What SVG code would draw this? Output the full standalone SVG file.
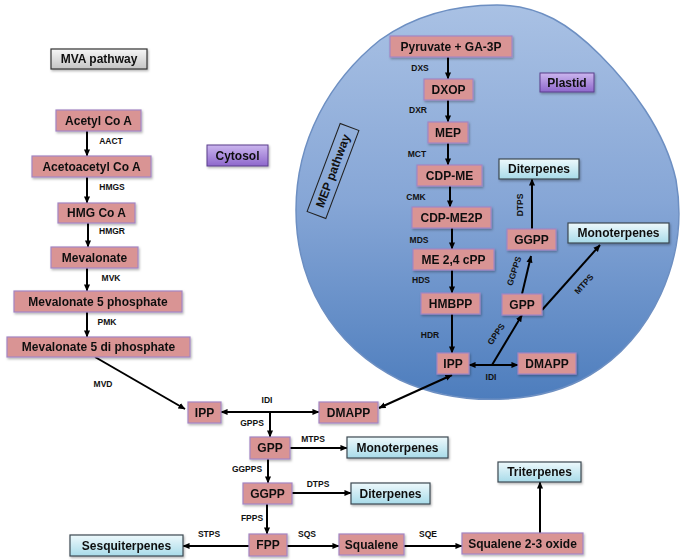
<svg xmlns="http://www.w3.org/2000/svg" width="685" height="560" viewBox="0 0 685 560">
<style>
text{font-family:"Liberation Sans",Arial,sans-serif;font-weight:bold;fill:#111;}
.t{font-size:12px;text-anchor:middle;dominant-baseline:central;}
.e{font-size:8.5px;text-anchor:middle;dominant-baseline:central;}
.n{fill:#d99494;stroke:#a385c4;stroke-width:1.2;}
.b{fill:url(#gb);stroke:#3d4a52;stroke-width:1.2;}
.p{fill:url(#gp);stroke:#5b3f8c;stroke-width:1;}
.g{fill:url(#gg);stroke:#333;stroke-width:1.2;}
.c line,.c path{stroke:#000;stroke-width:2;fill:none;marker-end:url(#ah);}
.c .d{marker-start:url(#ah);}
</style>
<defs>
<linearGradient id="gb" x1="0" y1="0" x2="0" y2="1"><stop offset="0" stop-color="#eef9fc"/><stop offset="1" stop-color="#a8dbe9"/></linearGradient>
<linearGradient id="gp" x1="0" y1="0" x2="0" y2="1"><stop offset="0" stop-color="#cbb6ee"/><stop offset="1" stop-color="#8e67cc"/></linearGradient>
<linearGradient id="gg" x1="0" y1="0" x2="0" y2="1"><stop offset="0" stop-color="#f6f6f6"/><stop offset="1" stop-color="#c4c4c4"/></linearGradient>
<linearGradient id="gbl" x1="0" y1="0" x2="0" y2="1"><stop offset="0" stop-color="#a9c1e4"/><stop offset="0.5" stop-color="#86a6d6"/><stop offset="1" stop-color="#4d7dbd"/></linearGradient>
<filter id="sh" x="-10%" y="-10%" width="130%" height="150%"><feDropShadow dx="1" dy="1.5" stdDeviation="1" flood-color="#000" flood-opacity="0.3"/></filter>
<marker id="ah" viewBox="0 0 8 8" refX="7.5" refY="4" markerWidth="7" markerHeight="7" orient="auto-start-reverse" markerUnits="userSpaceOnUse"><path d="M0,0.5 L8,4 L0,7.5 z" fill="#000"/></marker>
</defs>
<g id="plastid">
<path d="M 497,5 C 540,5 570,25 600,55 C 630,85 665,130 676,180 C 690,260 650,340 590,375 C 540,405 460,408 400,380 C 330,345 296,280 296,210 C 296,140 330,80 380,40 C 415,15 455,5 497,5 Z" fill="url(#gbl)" stroke="#6d8fc2" stroke-width="1.5"/>
</g>
<g id="mep-label" transform="translate(333,171) rotate(-69.4)">
<rect x="-47" y="-10" width="94" height="20" fill="none" stroke="#222" stroke-width="1"/>
<text class="t" x="0" y="0" font-size="11.5">MEP pathway</text>
</g>
<g id="mva-label" filter="url(#sh)"><rect class="g" x="51" y="49" width="96" height="20"/><text class="t" x="99" y="59">MVA pathway</text></g>
<g id="cytosol-label" filter="url(#sh)"><rect class="p" x="207" y="145" width="61" height="21"/><text class="t" x="237.5" y="155.5">Cytosol</text></g>
<g id="plastid-label" filter="url(#sh)"><rect class="p" x="540" y="73" width="54" height="19"/><text class="t" x="567" y="82.5">Plastid</text></g>

<g class="c" id="connectors">
<line x1="87" y1="131" x2="87" y2="156"/>
<line x1="87" y1="177" x2="87" y2="203"/>
<line x1="88" y1="223" x2="88" y2="247"/>
<line x1="87" y1="268" x2="87" y2="291"/>
<line x1="87" y1="312" x2="87" y2="337"/>
<line x1="95" y1="357" x2="185" y2="409"/>
<line class="d" x1="221" y1="412" x2="319" y2="412"/>
<path d="M270,412 L270,437"/>
<line x1="290" y1="448" x2="347" y2="448"/>
<line x1="268" y1="459" x2="268" y2="483"/>
<line x1="292" y1="493" x2="351" y2="493"/>
<line x1="267" y1="504" x2="267" y2="534"/>
<line x1="249" y1="546" x2="183" y2="546"/>
<line x1="287" y1="546" x2="339" y2="546"/>
<line x1="404" y1="546" x2="462" y2="546"/>
<line x1="540" y1="533" x2="540" y2="482"/>
<line class="d" x1="379" y1="408" x2="452" y2="375"/>
<line x1="448" y1="57" x2="448" y2="79"/>
<line x1="448" y1="100" x2="448" y2="122"/>
<line x1="448" y1="143" x2="448" y2="165"/>
<line x1="450" y1="186" x2="450" y2="207"/>
<line x1="452" y1="228" x2="452" y2="249"/>
<line x1="452" y1="270" x2="452" y2="293"/>
<line x1="452" y1="314" x2="452" y2="353"/>
<line class="d" x1="469" y1="365" x2="518" y2="365"/>
<path d="M492,365 L522,315"/>
<line x1="522" y1="294" x2="531" y2="256"/>
<line x1="532" y1="229" x2="532" y2="179"/>
<line x1="542" y1="310" x2="600" y2="245"/>
</g>

<g id="enzyme-labels">
<text class="e" x="111" y="141">AACT</text>
<text class="e" x="112" y="187">HMGS</text>
<text class="e" x="112" y="231">HMGR</text>
<text class="e" x="111" y="278">MVK</text>
<text class="e" x="107" y="322">PMK</text>
<text class="e" x="103" y="384">MVD</text>
<text class="e" x="267" y="400">IDI</text>
<text class="e" x="252" y="423">GPPS</text>
<text class="e" x="313" y="439">MTPS</text>
<text class="e" x="247" y="469">GGPPS</text>
<text class="e" x="318" y="484">DTPS</text>
<text class="e" x="252" y="518">FPPS</text>
<text class="e" x="209" y="534">STPS</text>
<text class="e" x="307" y="534">SQS</text>
<text class="e" x="428" y="534">SQE</text>
<text class="e" x="420" y="68">DXS</text>
<text class="e" x="418" y="110">DXR</text>
<text class="e" x="417" y="154">MCT</text>
<text class="e" x="416" y="197">CMK</text>
<text class="e" x="419" y="240">MDS</text>
<text class="e" x="421" y="280">HDS</text>
<text class="e" x="430" y="335">HDR</text>
<text class="e" x="491" y="377">IDI</text>
<text class="e" transform="translate(496,334) rotate(-55)">GPPS</text>
<text class="e" transform="translate(514,271) rotate(-72)">GGPPS</text>
<text class="e" transform="translate(520,205) rotate(-90)">DTPS</text>
<text class="e" transform="translate(584,284) rotate(-48)">MTPS</text>
</g>

<g id="acetylcoa" filter="url(#sh)"><rect class="n" x="56" y="110" width="85" height="21"/><text class="t" x="98.5" y="120.5">Acetyl Co A</text></g>
<g id="acetoacetylcoa" filter="url(#sh)"><rect class="n" x="32" y="156" width="119" height="21"/><text class="t" x="91.5" y="166.5">Acetoacetyl  Co A</text></g>
<g id="hmgcoa" filter="url(#sh)"><rect class="n" x="58" y="203" width="77" height="20"/><text class="t" x="96.5" y="213">HMG Co A</text></g>
<g id="mevalonate" filter="url(#sh)"><rect class="n" x="51" y="247" width="87" height="21"/><text class="t" x="94.5" y="257.5">Mevalonate</text></g>
<g id="mev5p" filter="url(#sh)"><rect class="n" x="14" y="291" width="168" height="21"/><text class="t" x="98" y="301.5">Mevalonate  5 phosphate</text></g>
<g id="mev5pp" filter="url(#sh)"><rect class="n" x="7" y="337" width="183" height="20"/><text class="t" x="98.5" y="347">Mevalonate  5 di phosphate</text></g>
<g id="ipp-cyt" filter="url(#sh)"><rect class="n" x="188" y="402" width="33" height="21"/><text class="t" x="204.5" y="412.5">IPP</text></g>
<g id="dmapp-cyt" filter="url(#sh)"><rect class="n" x="319" y="402" width="59" height="21"/><text class="t" x="348.5" y="412.5">DMAPP</text></g>
<g id="gpp-cyt" filter="url(#sh)"><rect class="n" x="250" y="437" width="40" height="22"/><text class="t" x="270" y="448">GPP</text></g>
<g id="mono-cyt" filter="url(#sh)"><rect class="b" x="347" y="437" width="101" height="21"/><text class="t" x="397.5" y="447.5">Monoterpenes</text></g>
<g id="ggpp-cyt" filter="url(#sh)"><rect class="n" x="243" y="483" width="49" height="21"/><text class="t" x="267.5" y="493.5">GGPP</text></g>
<g id="diter-cyt" filter="url(#sh)"><rect class="b" x="351" y="483" width="79" height="21"/><text class="t" x="390.5" y="493.5">Diterpenes</text></g>
<g id="fpp" filter="url(#sh)"><rect class="n" x="249" y="534" width="38" height="22"/><text class="t" x="268" y="545">FPP</text></g>
<g id="sesqui" filter="url(#sh)"><rect class="b" x="70" y="535" width="113" height="21"/><text class="t" x="126.5" y="545.5">Sesquiterpenes</text></g>
<g id="squalene" filter="url(#sh)"><rect class="n" x="339" y="534" width="65" height="21"/><text class="t" x="371.5" y="544.5">Squalene</text></g>
<g id="squalene-oxide" filter="url(#sh)"><rect class="n" x="462" y="533" width="121" height="21"/><text class="t" x="522.5" y="543.5">Squalene 2-3 oxide</text></g>
<g id="triterpenes" filter="url(#sh)"><rect class="b" x="498" y="462" width="83" height="20"/><text class="t" x="539.5" y="472">Triterpenes</text></g>

<g id="pyruvate" filter="url(#sh)"><rect class="n" x="390" y="36" width="122" height="21"/><text class="t" x="451" y="46.5">Pyruvate + GA-3P</text></g>
<g id="dxop" filter="url(#sh)"><rect class="n" x="424" y="79" width="49" height="21"/><text class="t" x="448.5" y="89.5">DXOP</text></g>
<g id="mep" filter="url(#sh)"><rect class="n" x="428" y="122" width="40" height="21"/><text class="t" x="448" y="132.5">MEP</text></g>
<g id="cdpme" filter="url(#sh)"><rect class="n" x="417" y="165" width="65" height="21"/><text class="t" x="449.5" y="175.5">CDP-ME</text></g>
<g id="cdpme2p" filter="url(#sh)"><rect class="n" x="412" y="207" width="79" height="21"/><text class="t" x="451.5" y="217.5">CDP-ME2P</text></g>
<g id="mecpp" filter="url(#sh)"><rect class="n" x="413" y="249" width="81" height="21"/><text class="t" x="453.5" y="259.5">ME 2,4 cPP</text></g>
<g id="hmbpp" filter="url(#sh)"><rect class="n" x="421" y="293" width="59" height="21"/><text class="t" x="450.5" y="303.5">HMBPP</text></g>
<g id="ipp-pla" filter="url(#sh)"><rect class="n" x="437" y="353" width="32" height="21"/><text class="t" x="453" y="363.5">IPP</text></g>
<g id="dmapp-pla" filter="url(#sh)"><rect class="n" x="518" y="353" width="58" height="21"/><text class="t" x="547" y="363.5">DMAPP</text></g>
<g id="gpp-pla" filter="url(#sh)"><rect class="n" x="502" y="294" width="40" height="21"/><text class="t" x="522" y="304.5">GPP</text></g>
<g id="ggpp-pla" filter="url(#sh)"><rect class="n" x="507" y="229" width="49" height="21"/><text class="t" x="531.5" y="239.5">GGPP</text></g>
<g id="diter-pla" filter="url(#sh)"><rect class="b" x="499" y="159" width="80" height="20"/><text class="t" x="539" y="169">Diterpenes</text></g>
<g id="mono-pla" filter="url(#sh)"><rect class="b" x="568" y="223" width="101" height="20"/><text class="t" x="618.5" y="233">Monoterpenes</text></g>
</svg>
